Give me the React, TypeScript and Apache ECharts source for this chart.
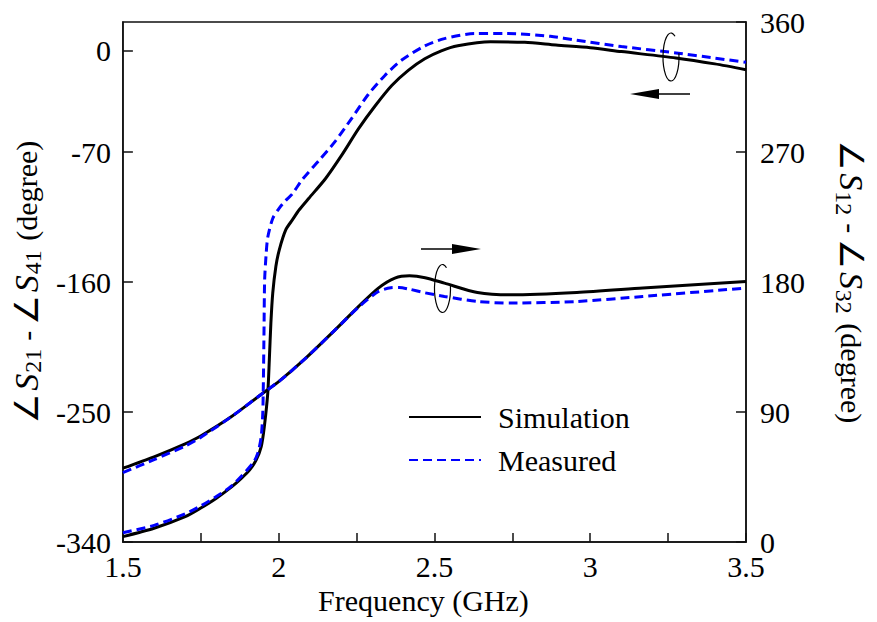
import React, { useEffect, useRef } from 'react';
import * as echarts from 'echarts';

const FONT = "'Liberation Serif', 'Times New Roman', Times, serif";
const ANGLE_FONT = "'DejaVu Sans', sans-serif";

// Tick values
const xLabelValues = [1.5, 2, 2.5, 3, 3.5];
const leftTickValues = [-340, -250, -160, -70, 0];
const rightTickValues = [0, 90, 180, 270, 360];

// ∠S21 - ∠S41 (left axis), simulation
const simLeft: number[][] = [
  [1.5, -336.3], [1.6, -330.5], [1.7, -322.5], [1.75, -316.5], [1.8, -309.7], [1.85, -301.7],
  [1.88, -296], [1.907, -290.1], [1.928, -283.2], [1.944, -274], [1.954, -260.1],
  [1.965, -237], [1.97, -213.9], [1.975, -188.5], [1.981, -167.7], [1.991, -149.3],
  [2.002, -137.7], [2.023, -123.8], [2.044, -117], [2.066, -110], [2.097, -102],
  [2.15, -88.5], [2.203, -72], [2.256, -54], [2.31, -38], [2.363, -24],
  [2.416, -13.5], [2.469, -5.5], [2.522, 0], [2.575, 3.5], [2.68, 6.3], [2.79, 5.9],
  [2.89, 4], [3.0, 2.2], [3.1, -0.5], [3.275, -4.9], [3.4, -9], [3.5, -13],
];

// ∠S21 - ∠S41 (left axis), measured
const measLeft: number[][] = [
  [1.5, -333.6], [1.6, -328.5], [1.7, -320.5], [1.75, -315], [1.8, -308.5], [1.85, -301],
  [1.917, -285.5], [1.933, -278.6], [1.944, -267], [1.949, -250.8], [1.951, -227.8],
  [1.953, -193.1], [1.955, -158.5], [1.96, -140], [1.965, -129], [1.981, -116],
  [2.002, -108.8], [2.023, -103.5], [2.044, -99], [2.076, -89], [2.129, -76],
  [2.182, -62.5], [2.235, -46.5], [2.288, -30], [2.341, -17], [2.394, -6.5],
  [2.469, 3.5], [2.532, 8.5], [2.628, 12], [2.734, 12], [2.872, 10.1], [2.957, 7.3],
  [3.1, 3], [3.275, -1.4], [3.4, -5], [3.5, -7.9],
];

// ∠S12 - ∠S32 (right axis), simulation
const simRight: number[][] = [
  [1.5, 51.1], [1.6, 59], [1.7, 68], [1.747, 73], [1.85, 87], [1.949, 103], [2.0, 111],
  [2.087, 127.3], [2.182, 147], [2.256, 163], [2.32, 175.8], [2.373, 182.7], [2.42, 184.3],
  [2.47, 183], [2.532, 179.2], [2.638, 172.7], [2.745, 171.1], [2.957, 172.7],
  [3.169, 175.8], [3.5, 180.4],
];

// ∠S12 - ∠S32 (right axis), measured
const measRight: number[][] = [
  [1.5, 48], [1.6, 57], [1.7, 66.5], [1.747, 72], [1.853, 87.5], [1.949, 103], [2.0, 111],
  [2.087, 127.3], [2.182, 147], [2.256, 162.5], [2.32, 173.4], [2.36, 176], [2.387, 176.2],
  [2.42, 175], [2.47, 172.5], [2.532, 170], [2.638, 166.5], [2.745, 165.4],
  [2.957, 166.5], [3.169, 170], [3.5, 175.8],
];

echarts.graphic.registerShape(
  'rotLoop',
  echarts.graphic.extendPath('M 4 -20.8 A 8 24 0 1 0 7.9 -3.8', {}) as any
);

const richName = {
  n: { fontSize: 30, fontFamily: FONT, color: '#000', lineHeight: 38 },
  sp: { fontSize: 30, fontFamily: FONT, color: '#000', lineHeight: 38, padding: [0, 6, 0, 6] },
  ang: { fontSize: 33, fontFamily: ANGLE_FONT, color: '#000', lineHeight: 38, padding: [0, 3, 0, 0] },
  it: { fontSize: 34, fontFamily: FONT, fontStyle: 'italic', color: '#000', lineHeight: 38 },
  sub: { fontSize: 24, fontFamily: FONT, color: '#000', lineHeight: 38, verticalAlign: 'bottom', padding: [13, 2, 0, 1] },
};

export default function App() {
  const ref = useRef<HTMLDivElement>(null);
  useEffect(() => {
    document.body.style.margin = '0';
    if (!ref.current) return;
    const chart = echarts.init(ref.current, undefined, { renderer: 'svg' });
    const axisLine = { show: true, onZero: false, lineStyle: { color: '#111', width: 1.5 } };
    const lineSeries = (name: string, data: number[][], yAxisIndex: number, measured: boolean) => ({
      name,
      type: 'line',
      yAxisIndex,
      data,
      symbol: 'none',
      smooth: 0.25,
      lineStyle: measured
        ? { color: '#0000ff', width: 3, type: [9, 5] }
        : { color: '#000000', width: 3 },
      itemStyle: { color: measured ? '#0000ff' : '#000000' },
      z: measured ? 3 : 2,
    });
    const labelStyle = { fontSize: 30, fontFamily: FONT, color: '#000' };
    chart.setOption({
      animation: false,
      textStyle: { fontFamily: FONT, fontSize: 30, color: '#000' },
      grid: { left: 122, right: 126, top: 22, bottom: 80, show: true, borderColor: '#111', borderWidth: 1.5 },
      legend: {
        data: ['Simulation', 'Measured'],
        orient: 'vertical',
        left: 403,
        top: 396,
        itemWidth: 72,
        itemHeight: 14,
        itemGap: 11,
        itemStyle: { opacity: 0 },
        textStyle: { ...labelStyle, lineHeight: 32, padding: [0, 0, 0, 12] },
      },
      xAxis: {
        type: 'value',
        min: 1.5,
        max: 3.5,
        interval: 0.25,
        name: 'Frequency (GHz)',
        nameLocation: 'middle',
        nameGap: 43,
        nameTextStyle: { ...labelStyle, padding: [0, 22, 0, 0] },
        axisLine,
        axisTick: { show: true, inside: true, length: 9, lineStyle: { color: '#111', width: 1.5 } },
        axisLabel: { customValues: xLabelValues, ...labelStyle, margin: 9 },
        splitLine: { show: false },
      },
      yAxis: [
        {
          type: 'value',
          position: 'left',
          min: -340,
          max: 20,
          name: '{ang|∠}{it|S}{sub|21}{sp|-}{ang|∠}{it|S}{sub|41}{n| (degree)}',
          nameLocation: 'middle',
          nameRotate: 90,
          nameGap: 76,
          nameTextStyle: { ...labelStyle, rich: richName },
          axisLine,
          axisTick: { show: true, inside: true, length: 10, customValues: leftTickValues, lineStyle: { color: '#111', width: 1.5 } },
          axisLabel: { customValues: leftTickValues, ...labelStyle, margin: 12 },
          splitLine: { show: false },
        },
        {
          type: 'value',
          position: 'right',
          min: 0,
          max: 360,
          name: '{ang|∠}{it|S}{sub|12}{sp|-}{ang|∠}{it|S}{sub|32}{n| (degree)}',
          nameLocation: 'middle',
          nameRotate: -90,
          nameGap: 86,
          nameTextStyle: { ...labelStyle, rich: richName },
          axisLine,
          axisTick: { show: true, inside: true, length: 10, customValues: rightTickValues, lineStyle: { color: '#111', width: 1.5 } },
          axisLabel: { customValues: rightTickValues, ...labelStyle, margin: 14 },
          splitLine: { show: false },
        },
      ],
      series: [
        lineSeries('Simulation', simLeft, 0, false),
        lineSeries('Simulation', simRight, 1, false),
        lineSeries('Measured', measLeft, 0, true),
        lineSeries('Measured', measRight, 1, true),
      ],
      graphic: [
        { type: 'rotLoop', x: 671, y: 57, shape: {}, style: { fill: 'none', stroke: '#000', lineWidth: 1.2 }, z: 10 },
        { type: 'line', shape: { x1: 656, y1: 94, x2: 690, y2: 94 }, style: { stroke: '#000', lineWidth: 1.5 }, z: 10 },
        { type: 'polygon', shape: { points: [[630, 94], [659, 89], [659, 99]] }, style: { fill: '#000' }, z: 10 },
        { type: 'rotLoop', x: 442.5, y: 288.5, shape: {}, style: { fill: 'none', stroke: '#000', lineWidth: 1.2 }, z: 10 },
        { type: 'line', shape: { x1: 421, y1: 249, x2: 454, y2: 249 }, style: { stroke: '#000', lineWidth: 1.5 }, z: 10 },
        { type: 'polygon', shape: { points: [[481, 249], [452, 244], [452, 254]] }, style: { fill: '#000' }, z: 10 },
      ],
    });
    return () => chart.dispose();
  }, []);
  return <div ref={ref} style={{ width: 877, height: 622 }} />;
}
